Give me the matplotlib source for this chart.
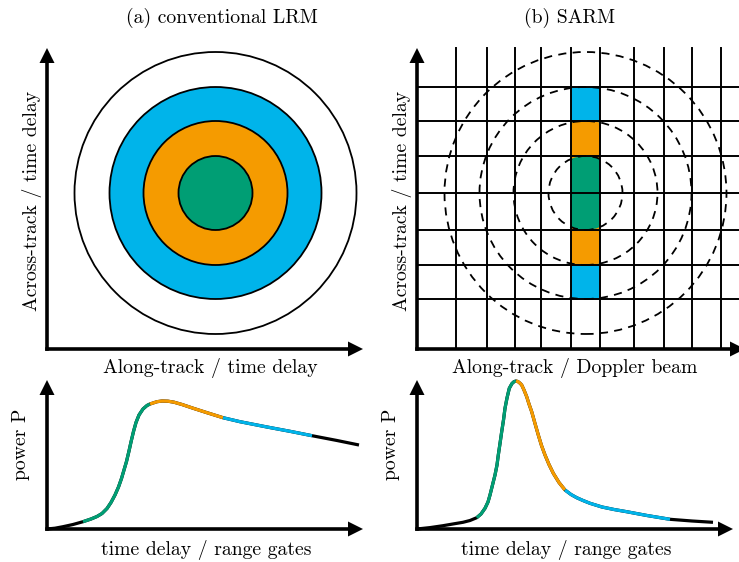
import matplotlib.pyplot as plt
from matplotlib.patches import Circle, Rectangle
import numpy as np

plt.rcParams['font.family'] = ['cmr10', 'DejaVu Serif']
plt.rcParams['mathtext.fontset'] = 'cm'
plt.rcParams['axes.unicode_minus'] = False

W, H = 739, 562
BLUE = '#00b4ea'
ORANGE = '#f59b00'
GREEN = '#009e74'

# footprint: concentric rings (pixel-like units from the axes origin)
radii = [141, 106, 72, 37]
ring_colors = ['white', BLUE, ORANGE, GREEN]
centre = (168.5, 156)

# SAR grid: Doppler beam edges and range gate edges
beam_x = [39, 70, 98, 124, 154, 183, 217, 247, 275, 304]
gate_y = [50, 84, 119, 156, 193, 228, 262]
strip = (154, 183)

# waveforms
lrm_t = [0, 8, 16, 26, 36, 44, 50, 55, 60, 64, 68, 71.5, 74.5, 77, 79.5, 82, 84,
         86.5, 89, 92, 96, 100, 103, 110, 115, 121, 127, 135, 146, 160, 176, 193,
         220, 245, 265, 290, 312]
lrm_p = [0, 0.8, 2.3, 4.5, 7.3, 10, 12.5, 15.5, 20.5, 26.5, 34, 42, 50.5, 59, 67.5,
         78, 87, 97.5, 106.5, 114, 120, 123.5, 125, 127.3, 128, 127.8, 126.8, 124.5,
         120.8, 116.3, 111.3, 107.3, 102, 97.3, 93.3, 88.5, 84]
lrm_breaks = [36, 103, 176, 265]

sar_t = [0, 13, 26, 37, 46, 53, 59.7, 64, 68, 71, 73, 75.5, 78, 80, 81.3, 83, 84.7,
         86.5, 88, 90, 92.3, 95, 97, 99, 101, 103, 104.7, 107, 109.7, 112, 114.7,
         118, 121.3, 124.5, 128, 132, 136.3, 142, 148, 154, 159.7, 166, 173, 185,
         197, 209.7, 230, 253, 275, 296]
sar_p = [0, 1.4, 3.3, 5.2, 6.7, 8.5, 11.3, 15, 20.7, 27, 34, 44, 54, 64, 74, 85.5,
         97.3, 109, 120.7, 131, 140.7, 145.5, 147.3, 148, 147.4, 145.8, 144, 139,
         132.3, 125, 117.3, 105.5, 94, 83.5, 74, 64.5, 55.7, 46.5, 39, 34.5, 31.3,
         28.5, 25.7, 22, 19.5, 17.3, 13.5, 9.7, 8, 6.7]
sar_breaks = [59.7, 99, 148, 253]


def px_axes(fig, x0, y0, w, h):
    # x0, y0 = axis origin in image pixels (y down)
    ax = fig.add_axes([x0 / W, (H - y0) / H, w / W, h / H])
    ax.set_xlim(0, w)
    ax.set_ylim(0, h)
    ax.axis('off')
    return ax


def axis_arrows(ax, xend, yend):
    kw = dict(width=3.6, head_width=15, head_length=15, length_includes_head=True,
              fc='k', ec='none', clip_on=False, zorder=10)
    ax.arrow(-1.8, 0, xend + 1.8, 0, **kw)
    ax.arrow(0, -1.8, 0, yend + 1.8, **kw)


def draw_wave(ax, t, p, breaks):
    t = np.array(t)
    p = np.array(p)
    ax.plot(t, p, color='k', lw=2.3, solid_capstyle='butt', clip_on=False)
    for a, b, c in zip(breaks[:-1], breaks[1:], [GREEN, ORANGE, BLUE]):
        m = (t >= a) & (t <= b)
        ax.plot(t[m], p[m], color=c, lw=2.3, solid_capstyle='butt', clip_on=False)


fig = plt.figure(figsize=(W / 100, H / 100), dpi=100)

# (a) LRM footprint
ax1 = px_axes(fig, 47, 349, 316, 301)
for r, c in zip(radii, ring_colors):
    ax1.add_patch(Circle(centre, r, fc=c, ec='k', lw=1.3))
axis_arrows(ax1, 316, 301)

# (b) SAR footprint
ax2 = px_axes(fig, 417, 349, 322, 301)
clip = Rectangle((strip[0], 0), strip[1] - strip[0], 301, transform=ax2.transData)
for r, c in zip(radii[1:], ring_colors[1:]):
    disk = Circle(centre, r, fc=c, ec='none')
    ax2.add_patch(disk)
    disk.set_clip_path(clip)
for x in beam_x:
    ax2.plot([x, x], [0, 301], color='k', lw=1.4, clip_on=False)
for y in gate_y:
    ax2.plot([0, 340], [y, y], color='k', lw=1.4, clip_on=False)
for r in radii:
    ax2.add_patch(Circle(centre, r, fill=False, ec='k', lw=1.3, ls=(0, (4.5, 3.5))))
axis_arrows(ax2, 328, 301)

# waveforms
ax3 = px_axes(fig, 47, 529, 316, 149)
draw_wave(ax3, lrm_t, lrm_p, lrm_breaks)
axis_arrows(ax3, 316, 149)

ax4 = px_axes(fig, 417, 529, 316, 149)
draw_wave(ax4, sar_t, sar_p, sar_breaks)
axis_arrows(ax4, 316, 149)

fs = 14.2
def label(x, y, s, rot=0):
    fig.text(x / W, 1 - y / H, s, ha='center', va='center', rotation=rot, fontsize=fs)

label(222, 18, '(a) conventional LRM')
label(570, 18, '(b) SARM')
label(210, 368, 'Along-track / time delay')
label(575, 368, 'Along-track / Doppler beam')
label(32, 201, 'Across-track / time delay', 90)
label(402, 201, 'Across-track / time delay', 90)
label(21, 444, 'power P', 90)
label(391, 444, 'power P', 90)
label(206, 550, 'time delay / range gates')
label(566, 550, 'time delay / range gates')

fig.savefig('out.png', dpi=100)
